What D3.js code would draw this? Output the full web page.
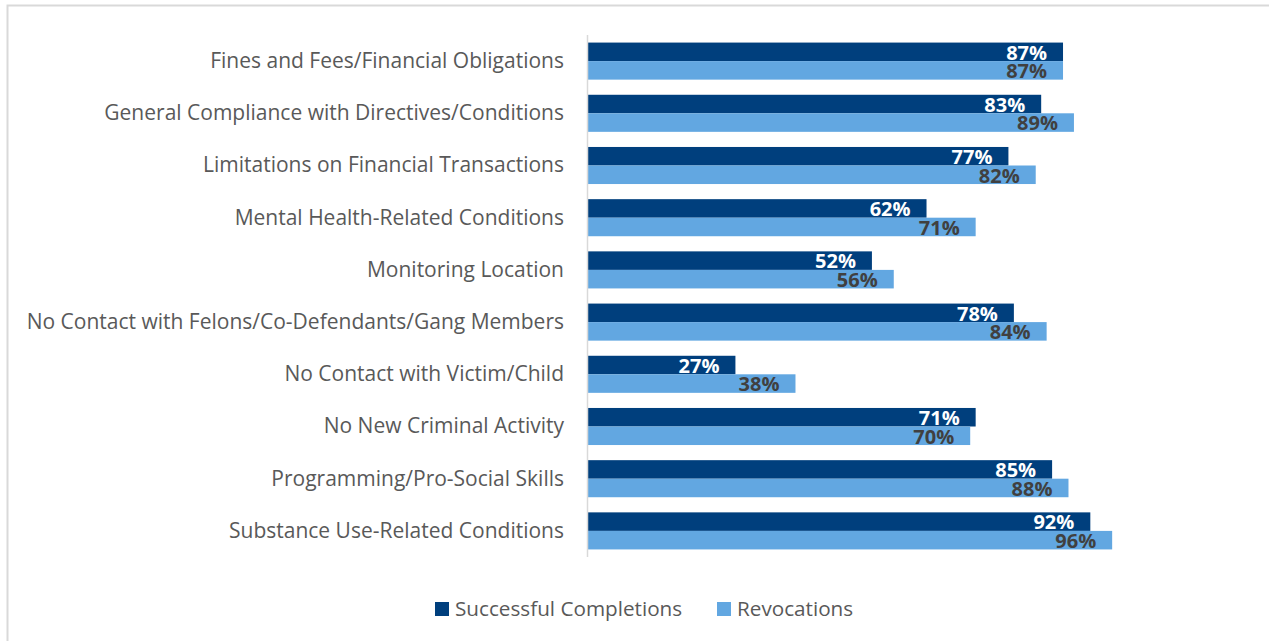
<!DOCTYPE html>
<html>
<head>
<meta charset="utf-8">
<script src="https://cdn.jsdelivr.net/npm/d3@7"></script>
<style>
  body { margin: 0; background: #fff; }
  svg { display: block; font-family: "Open Sans", "Noto Sans", sans-serif; }
</style>
</head>
<body>
<div id="chart"></div>
<script>
// data
var categories = [
  "Fines and Fees/Financial Obligations",
  "General Compliance with Directives/Conditions",
  "Limitations on Financial Transactions",
  "Mental Health-Related Conditions",
  "Monitoring Location",
  "No Contact with Felons/Co-Defendants/Gang Members",
  "No Contact with Victim/Child",
  "No New Criminal Activity",
  "Programming/Pro-Social Skills",
  "Substance Use-Related Conditions"
];
var successful = [87, 83, 77, 62, 52, 78, 27, 71, 85, 92];
var revocations = [87, 89, 82, 71, 56, 84, 38, 70, 88, 96];
var seriesNames = ["Successful Completions", "Revocations"];

var W = 1269, H = 641;
var colors = ["#003f7d", "#62a7e1"];
var labelColors = ["#ffffff", "#404040"];

var svg = d3.select("#chart").append("svg")
    .attr("width", W)
    .attr("height", H);

// chart frame (runs off the right and bottom of the picture)
svg.append("rect")
    .attr("x", 7.5).attr("y", 5.5)
    .attr("width", W + 20).attr("height", H + 20)
    .attr("fill", "#fff")
    .attr("stroke", "#d9d9d9")
    .attr("stroke-width", 2);

var x = d3.scaleLinear().domain([0, 100]).range([588, 588 + 546]);

var y = d3.scaleBand()
    .domain(categories)
    .range([35, 557])
    .paddingInner(0.29)
    .paddingOuter(0.145);

var inner = d3.scaleBand().domain(seriesNames).range([0, y.bandwidth()]);

var rows = categories.map(function(c, i){
  return { cat: c, vals: [successful[i], revocations[i]] };
});

var groups = svg.selectAll(".row")
    .data(rows)
  .enter().append("g")
    .attr("class", "row")
    .attr("transform", d => `translate(0,${y(d.cat)})`);

groups.selectAll("rect")
    .data(d => d.vals)
  .enter().append("rect")
    .attr("x", x(0))
    .attr("y", (d, i) => inner(seriesNames[i]))
    .attr("width", d => x(d) - x(0))
    .attr("height", inner.bandwidth())
    .attr("fill", (d, i) => colors[i]);

groups.selectAll("text.val")
    .data(d => d.vals)
  .enter().append("text")
    .attr("class", "val")
    .attr("x", d => x(d) - 16)
    .attr("y", (d, i) => inner(seriesNames[i]) + inner.bandwidth() - 1.5)
    .attr("text-anchor", "end")
    .attr("font-size", "20px")
    .attr("font-weight", "bold")
    .attr("fill", (d, i) => labelColors[i])
    .text(d => d + "%");

// category labels
svg.append("g").selectAll("text")
    .data(categories)
  .enter().append("text")
    .attr("x", 564)
    .attr("y", d => y(d) + y.bandwidth() / 2)
    .attr("dy", "0.33em")
    .attr("text-anchor", "end")
    .attr("font-size", "21px")
    .attr("fill", "#595959")
    .text(d => d);

// vertical axis line
svg.append("line")
    .attr("x1", x(0) - 0.5).attr("x2", x(0) - 0.5)
    .attr("y1", 35).attr("y2", 557)
    .attr("stroke", "#d9d9d9")
    .attr("stroke-width", 1.5);

// legend
var legendX = [435, 717];
var legend = svg.selectAll(".legend")
    .data(seriesNames)
  .enter().append("g")
    .attr("class", "legend")
    .attr("transform", (d, i) => `translate(${legendX[i]},602)`);

legend.append("rect")
    .attr("width", 14).attr("height", 14)
    .attr("fill", (d, i) => colors[i]);

legend.append("text")
    .attr("x", 20).attr("y", 7)
    .attr("dy", "0.35em")
    .attr("font-size", "20.7px")
    .attr("fill", "#595959")
    .text(d => d);
</script>
</body>
</html>
